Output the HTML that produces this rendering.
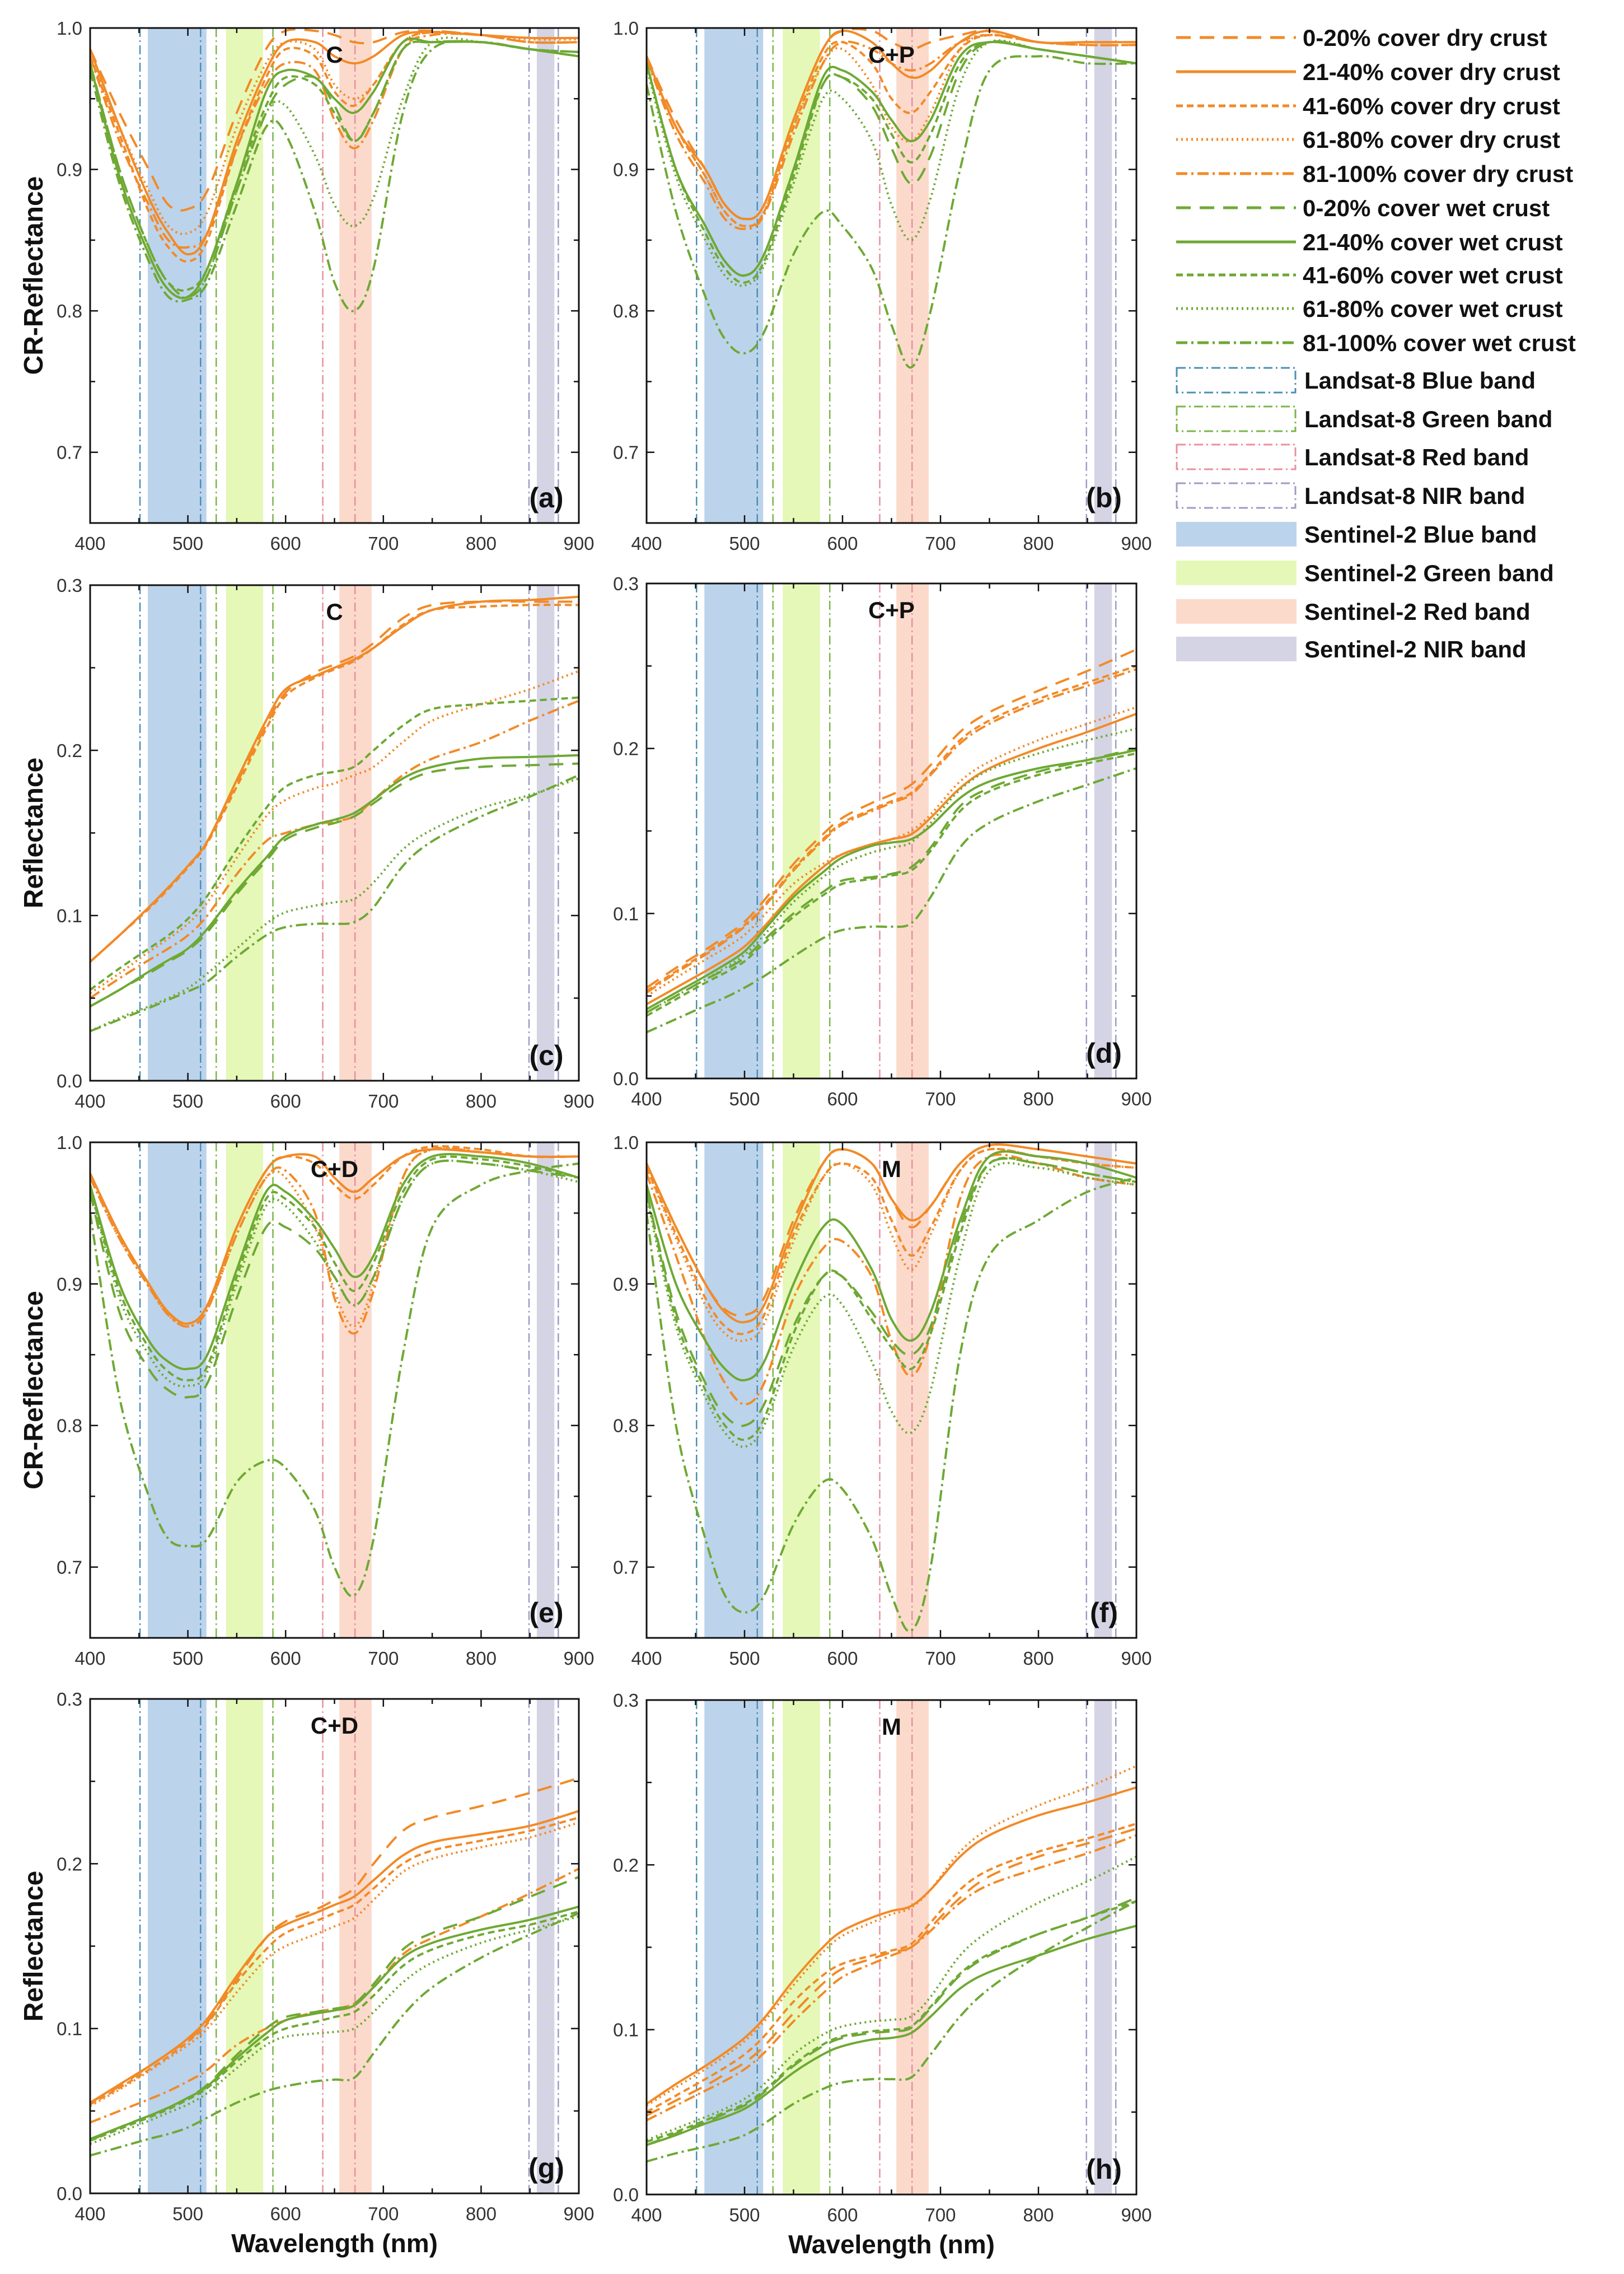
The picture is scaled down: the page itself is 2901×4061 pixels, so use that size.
<!DOCTYPE html>
<html><head><meta charset="utf-8">
<style>
html,body{margin:0;padding:0;background:#fff;}
svg{display:block;}
text{font-family:"Liberation Sans",Arial,sans-serif;}
</style></head>
<body>
<svg id="fig" xmlns="http://www.w3.org/2000/svg" width="2901" height="4061" viewBox="0 0 2901 4061"></svg>
<script>
const wavelengths = [400,430,460,480,500,520,550,580,600,630,650,670,690,720,750,800,850,900];
const seriesNames = ["0-20% cover dry crust","21-40% cover dry crust","41-60% cover dry crust","61-80% cover dry crust","81-100% cover dry crust","0-20% cover wet crust","21-40% cover wet crust","41-60% cover wet crust","61-80% cover wet crust","81-100% cover wet crust"];
const xTicks = [400,500,600,700,800,900];
const crTicks = [0.7,0.8,0.9,1.0];
const crTickLabels = ["0.7","0.8","0.9","1.0"];
const rTicks = [0.0,0.1,0.2,0.3];
const rTickLabels = ["0.0","0.1","0.2","0.3"];
const sentinelBands = [[459,519],[539,577],[655,688],[857,875]];
const landsatBands = [[451,513],[529,587],[638,671],[849,879]];

const seriesA = [
[.985,.94,.90,.875,.872,.885,.94,.985,.998,.998,.995,.99,.99,.997,.998,.995,.99,.99],
[.985,.93,.88,.855,.84,.855,.92,.97,.99,.99,.98,.975,.98,.995,.997,.995,.993,.993],
[.98,.925,.87,.845,.835,.85,.915,.965,.985,.98,.955,.945,.96,.99,.997,.995,.99,.99],
[.98,.93,.885,.86,.855,.87,.93,.975,.99,.985,.96,.95,.96,.99,.997,.995,.992,.992],
[.98,.92,.875,.85,.845,.855,.915,.96,.975,.97,.935,.915,.935,.985,.995,.995,.99,.99],
[.975,.90,.845,.82,.81,.825,.885,.94,.96,.965,.945,.92,.94,.985,.99,.99,.985,.98],
[.975,.895,.84,.815,.81,.83,.89,.955,.97,.965,.95,.94,.955,.99,.99,.99,.985,.98],
[.975,.90,.845,.82,.815,.83,.89,.945,.965,.96,.94,.92,.94,.985,.99,.99,.985,.983],
[.975,.895,.84,.815,.81,.825,.885,.94,.945,.91,.875,.86,.88,.95,.99,.99,.985,.983],
[.97,.89,.835,.81,.808,.82,.875,.93,.925,.87,.82,.80,.83,.94,.985,.99,.985,.983]];
const seriesB = [
[.98,.935,.9,.875,.865,.875,.935,.985,.998,.998,.99,.985,.99,.995,.998,.99,.99,.99],
[.98,.93,.9,.875,.865,.875,.935,.985,.998,.99,.975,.965,.97,.99,.998,.99,.99,.99],
[.978,.93,.895,.87,.86,.87,.93,.98,.99,.975,.95,.94,.955,.985,.995,.99,.988,.988],
[.978,.93,.895,.87,.86,.87,.93,.975,.985,.96,.93,.92,.94,.985,.995,.99,.988,.988],
[.978,.925,.89,.865,.858,.868,.925,.975,.99,.985,.975,.97,.975,.99,.995,.99,.988,.988],
[.975,.9,.86,.835,.825,.84,.9,.96,.965,.945,.915,.89,.91,.97,.99,.985,.98,.975],
[.975,.9,.86,.835,.825,.84,.9,.965,.97,.955,.935,.92,.935,.98,.99,.985,.98,.975],
[.975,.9,.855,.83,.82,.835,.895,.96,.965,.95,.925,.905,.925,.975,.99,.985,.98,.975],
[.972,.895,.85,.825,.818,.832,.89,.95,.95,.92,.875,.85,.88,.96,.99,.985,.98,.975],
[.96,.87,.81,.78,.77,.785,.84,.87,.86,.83,.79,.76,.8,.9,.97,.98,.975,.975]];
const seriesC = [
[.072,.088,.105,.117,.13,.145,.18,.215,.235,.247,.252,.257,.265,.28,.288,.29,.29,.29],
[.072,.088,.105,.117,.13,.145,.182,.218,.237,.245,.25,.255,.262,.275,.285,.29,.291,.293],
[.072,.088,.104,.116,.129,.144,.178,.213,.233,.244,.249,.254,.262,.276,.285,.287,.288,.288],
[.053,.065,.078,.086,.095,.108,.135,.16,.17,.177,.18,.185,.19,.205,.218,.228,.237,.248],
[.05,.062,.073,.08,.088,.1,.125,.145,.15,.155,.157,.16,.17,.185,.195,.205,.218,.23],
[.045,.055,.065,.072,.079,.09,.113,.133,.146,.153,.156,.16,.168,.18,.187,.19,.191,.192],
[.045,.055,.066,.073,.08,.092,.115,.135,.148,.155,.158,.162,.17,.183,.19,.195,.196,.197],
[.055,.068,.08,.088,.098,.112,.14,.165,.178,.185,.187,.19,.2,.215,.225,.228,.23,.232],
[.03,.038,.045,.05,.056,.065,.08,.095,.102,.106,.108,.11,.12,.14,.152,.165,.173,.183],
[.03,.037,.044,.049,.054,.06,.075,.088,.093,.095,.095,.096,.105,.13,.145,.16,.172,.185]];
const seriesD = [
[.055,.067,.078,.086,.095,.108,.13,.148,.158,.167,.172,.178,.19,.21,.222,.235,.247,.26],
[.045,.055,.065,.072,.08,.092,.112,.128,.136,.142,.145,.148,.158,.176,.188,.2,.21,.221],
[.053,.065,.076,.084,.093,.105,.127,.145,.155,.163,.168,.173,.185,.205,.217,.23,.24,.25],
[.05,.061,.072,.079,.087,.099,.118,.13,.136,.141,.145,.15,.16,.18,.192,.205,.215,.225],
[.052,.064,.075,.083,.092,.104,.126,.144,.154,.162,.167,.172,.184,.203,.215,.228,.238,.248],
[.04,.05,.06,.066,.073,.084,.1,.113,.12,.122,.124,.128,.14,.165,.176,.186,.193,.2],
[.042,.052,.062,.069,.077,.09,.11,.125,.134,.141,.143,.145,.153,.17,.18,.188,.193,.199],
[.038,.048,.058,.064,.071,.082,.098,.111,.118,.121,.123,.126,.138,.162,.174,.184,.191,.197],
[.04,.05,.06,.067,.075,.087,.107,.122,.13,.137,.14,.143,.155,.175,.187,.197,.205,.212],
[.028,.036,.044,.049,.055,.062,.074,.085,.09,.092,.092,.094,.11,.14,.155,.168,.178,.188]];
const seriesE = [
[.978,.935,.9,.88,.872,.885,.94,.98,.99,.99,.975,.965,.975,.99,.995,.993,.99,.99],
[.978,.935,.9,.88,.872,.885,.94,.98,.99,.99,.975,.965,.975,.99,.995,.993,.99,.99],
[.978,.935,.9,.88,.872,.885,.94,.98,.99,.985,.97,.96,.97,.99,.997,.995,.99,.99],
[.975,.932,.898,.878,.87,.882,.935,.975,.975,.94,.895,.87,.9,.975,.995,.993,.99,.99],
[.975,.932,.898,.878,.87,.882,.935,.975,.98,.95,.89,.865,.895,.975,.995,.993,.99,.99],
[.965,.88,.84,.825,.82,.83,.89,.94,.94,.925,.905,.885,.905,.96,.985,.985,.98,.975],
[.97,.9,.86,.845,.84,.85,.91,.965,.965,.945,.925,.905,.92,.97,.99,.99,.985,.975],
[.968,.895,.855,.838,.832,.842,.905,.96,.96,.94,.915,.895,.915,.965,.988,.988,.983,.975],
[.968,.89,.85,.832,.828,.838,.9,.955,.955,.93,.905,.885,.905,.96,.985,.985,.98,.972],
[.95,.82,.75,.72,.715,.72,.76,.775,.77,.74,.7,.68,.72,.85,.94,.97,.98,.985]];
const seriesF = [
[.985,.94,.9,.882,.878,.89,.945,.985,.995,.985,.96,.94,.955,.985,.998,.995,.99,.985],
[.985,.94,.9,.88,.873,.885,.94,.985,.995,.985,.96,.945,.955,.985,.998,.995,.99,.985],
[.982,.935,.89,.87,.865,.878,.935,.975,.985,.975,.945,.92,.94,.98,.995,.99,.985,.982],
[.982,.932,.885,.865,.86,.872,.93,.975,.985,.97,.935,.91,.935,.98,.995,.99,.985,.982],
[.978,.92,.86,.83,.815,.83,.89,.925,.93,.905,.86,.835,.865,.96,.99,.985,.975,.97],
[.965,.88,.83,.807,.8,.815,.87,.905,.905,.88,.86,.85,.87,.94,.985,.985,.978,.972],
[.97,.9,.86,.84,.832,.845,.9,.94,.942,.91,.875,.86,.88,.945,.99,.99,.985,.975],
[.965,.875,.825,.8,.79,.805,.865,.905,.905,.875,.855,.84,.865,.935,.985,.985,.978,.972],
[.962,.87,.82,.795,.785,.8,.855,.89,.885,.845,.81,.795,.825,.92,.98,.982,.975,.97],
[.95,.8,.72,.68,.668,.68,.73,.76,.755,.72,.68,.655,.7,.85,.92,.945,.965,.975]];
const seriesG = [
[.055,.065,.077,.085,.093,.104,.13,.155,.165,.172,.178,.185,.2,.22,.228,.235,.243,.252],
[.055,.066,.077,.085,.094,.106,.132,.155,.163,.17,.175,.18,.19,.205,.213,.218,.223,.232],
[.054,.064,.075,.083,.092,.103,.128,.148,.158,.165,.17,.175,.185,.2,.208,.214,.22,.228],
[.053,.063,.074,.082,.09,.1,.122,.142,.15,.157,.162,.167,.178,.195,.203,.21,.216,.225],
[.043,.05,.057,.062,.068,.075,.09,.1,.105,.11,.112,.115,.125,.145,.155,.168,.182,.197],
[.032,.04,.047,.052,.058,.066,.084,.1,.107,.11,.112,.115,.127,.148,.158,.168,.18,.192],
[.033,.04,.047,.052,.058,.065,.082,.097,.105,.109,.111,.114,.125,.143,.152,.16,.166,.174],
[.032,.039,.046,.051,.057,.064,.08,.094,.1,.104,.107,.11,.12,.138,.148,.157,.163,.171],
[.03,.037,.044,.049,.054,.061,.076,.09,.095,.097,.098,.1,.11,.128,.14,.152,.16,.168],
[.023,.028,.033,.036,.04,.046,.055,.062,.065,.068,.069,.07,.085,.108,.125,.143,.157,.17]];
const seriesH = [
[.048,.057,.066,.073,.08,.09,.11,.128,.137,.143,.147,.15,.162,.18,.193,.205,.213,.222],
[.055,.067,.078,.086,.095,.107,.13,.15,.16,.168,.172,.175,.185,.205,.218,.23,.238,.247],
[.05,.06,.07,.077,.085,.096,.117,.133,.14,.145,.148,.152,.165,.185,.197,.208,.216,.225],
[.054,.065,.076,.084,.093,.105,.127,.147,.157,.165,.17,.174,.185,.208,.222,.236,.247,.26],
[.045,.054,.063,.069,.076,.086,.105,.122,.132,.14,.145,.15,.16,.177,.188,.198,.207,.218],
[.03,.037,.044,.049,.054,.062,.078,.09,.095,.098,.099,.101,.113,.133,.145,.158,.168,.18],
[.03,.036,.043,.047,.052,.06,.074,.085,.09,.094,.095,.098,.108,.125,.135,.145,.155,.163],
[.032,.038,.045,.05,.055,.063,.079,.091,.096,.099,.1,.102,.114,.134,.146,.158,.168,.178],
[.033,.04,.047,.052,.058,.067,.085,.097,.102,.105,.106,.108,.12,.145,.16,.177,.19,.205],
[.02,.025,.029,.032,.036,.043,.055,.064,.068,.07,.07,.071,.085,.108,.125,.145,.162,.178]];

const NS = "http://www.w3.org/2000/svg";
const svg = document.getElementById('fig');
const ORANGE = "#f28a27", GREEN = "#6ea934";
const styles = [
 {c:ORANGE,d:"26 16",w:4},{c:ORANGE,d:"",w:4},{c:ORANGE,d:"12 7",w:4},{c:ORANGE,d:"3 6",w:4},{c:ORANGE,d:"20 7 4 7",w:4},
 {c:GREEN,d:"26 16",w:4},{c:GREEN,d:"",w:4},{c:GREEN,d:"12 7",w:4},{c:GREEN,d:"3 6",w:4},{c:GREEN,d:"20 7 4 7",w:4}];
const sentColors = ["#bcd3ec","#e5f8b8","#fbdacc","#d5d4e5"];
const landColors = ["#4b8fb5","#7bb54a","#e8909c","#9c9cc4"];

function el(tag, attrs, parent){
  const e = document.createElementNS(NS, tag);
  for (const k in attrs) e.setAttribute(k, attrs[k]);
  (parent||svg).appendChild(e);
  return e;
}
function txt(s, attrs, parent){ const t = el('text', attrs, parent); t.textContent = s; return t; }

const panels = [
 {id:'a', x0:161, x1:1034, y0:50, y1:934, cr:true, data:seriesA, title:'C', label:'(a)', ytitle:'CR-Reflectance'},
 {id:'b', x0:1155, x1:2030, y0:50, y1:934, cr:true, data:seriesB, title:'C+P', label:'(b)'},
 {id:'c', x0:161, x1:1034, y0:1045, y1:1930, cr:false, data:seriesC, title:'C', label:'(c)', ytitle:'Reflectance'},
 {id:'d', x0:1155, x1:2030, y0:1042, y1:1926, cr:false, data:seriesD, title:'C+P', label:'(d)'},
 {id:'e', x0:161, x1:1034, y0:2040, y1:2925, cr:true, data:seriesE, title:'C+D', label:'(e)', ytitle:'CR-Reflectance'},
 {id:'f', x0:1155, x1:2030, y0:2040, y1:2925, cr:true, data:seriesF, title:'M', label:'(f)'},
 {id:'g', x0:161, x1:1034, y0:3034, y1:3917, cr:false, data:seriesG, title:'C+D', label:'(g)', ytitle:'Reflectance', xtitle:true},
 {id:'h', x0:1155, x1:2030, y0:3036, y1:3919, cr:false, data:seriesH, title:'M', label:'(h)', xtitle:true}
];

function pathFor(xs, ys){
  let d = `M${xs[0]},${ys[0]}`;
  for (let i=0;i<xs.length-1;i++){
    const x0 = xs[Math.max(0,i-1)], y0 = ys[Math.max(0,i-1)];
    const x1 = xs[i], y1 = ys[i], x2 = xs[i+1], y2 = ys[i+1];
    const x3 = xs[Math.min(xs.length-1,i+2)], y3 = ys[Math.min(xs.length-1,i+2)];
    const c1x = x1+(x2-x0)/6, c1y = y1+(y2-y0)/6, c2x = x2-(x3-x1)/6, c2y = y2-(y3-y1)/6;
    d += ` C${c1x.toFixed(1)},${c1y.toFixed(1)} ${c2x.toFixed(1)},${c2y.toFixed(1)} ${x2.toFixed(1)},${y2.toFixed(1)}`;
  }
  return d;
}

panels.forEach(p => {
  const g = el('g', {});
  
  
  const ymin = p.cr ? 0.65 : 0.0, ymax = p.cr ? 1.0 : 0.3;
  const X = w => p.x0 + (w-400)/500*(p.x1-p.x0);
  const Y = v => p.y1 - (v-ymin)/(ymax-ymin)*(p.y1-p.y0);
  const clipId = 'clip-' + p.id;
  const cp = el('clipPath', {id:clipId}, g);
  el('rect', {x:p.x0, y:p.y0, width:p.x1-p.x0, height:p.y1-p.y0}, cp);
  sentinelBands.forEach((b,i) => {
    const r = el('rect', {x:X(b[0]), y:p.y0, width:X(b[1])-X(b[0]), height:p.y1-p.y0, fill:sentColors[i]}, g);
    
    
  });
  landsatBands.forEach((b,i) => {
    b.forEach(w => {
      const l = el('line', {x1:X(w), x2:X(w), y1:p.y0, y2:p.y1, stroke:landColors[i], 'stroke-width':2.5, 'stroke-dasharray':'16 6 3 6'}, g);
      
      
    });
  });
  const sg = el('g', {'clip-path':`url(#${clipId})`}, g);
  p.data.forEach((vals, si) => {
    const xs = wavelengths.map(X), ys = vals.map(Y);
    const s = styles[si];
    const path = el('path', {d:pathFor(xs,ys), fill:'none', stroke:s.c, 'stroke-width':s.w, 'stroke-linecap':'butt'}, sg);
    if (s.d) path.setAttribute('stroke-dasharray', s.d);
    
    
  });
  const fr = el('rect', {x:p.x0, y:p.y0, width:p.x1-p.x0, height:p.y1-p.y0, fill:'none', stroke:'#111', 'stroke-width':3}, g);
  
  
  for (let w=400; w<=900; w+=50){
    const len = (w%100===0)?14:9;
    el('line', {x1:X(w), x2:X(w), y1:p.y1, y2:p.y1-len, stroke:'#111','stroke-width':2.5}, g);
    el('line', {x1:X(w), x2:X(w), y1:p.y0, y2:p.y0+len, stroke:'#111','stroke-width':2.5}, g);
  }
  xTicks.forEach(w => {
    const t = txt(String(w), {x:X(w), y:p.y1+48, 'font-size':33, 'text-anchor':'middle', fill:'#333'}, g);
    
    
  });
  const tks = p.cr ? crTicks : rTicks, tls = p.cr ? crTickLabels : rTickLabels;
  const step = 0.05;
  for (let v=ymin; v<=ymax+1e-6; v+=step){
    const major = Math.abs(Math.round(v*10)-v*10) < 1e-6;
    const len = major?14:9;
    el('line', {x1:p.x0, x2:p.x0+len, y1:Y(v), y2:Y(v), stroke:'#111','stroke-width':2.5}, g);
    el('line', {x1:p.x1, x2:p.x1-len, y1:Y(v), y2:Y(v), stroke:'#111','stroke-width':2.5}, g);
  }
  tks.forEach((v,i) => {
    const t = txt(tls[i], {x:p.x0-14, y:Y(v)+12, 'font-size':33, 'text-anchor':'end', fill:'#333'}, g);
    
    
  });
  const tt = txt(p.title, {x:X(650), y:p.y0+62, 'font-size':42, 'font-weight':'bold', 'text-anchor':'middle', fill:'#111'}, g);
  
  
  const lb = txt(p.label, {x:p.x1-58, y:p.y1-28, 'font-size':50, 'font-weight':'bold', 'text-anchor':'middle', fill:'#111'}, g);
  
  
  if (p.ytitle){
    const cy = (p.y0+p.y1)/2;
    const yt = txt(p.ytitle, {x:0, y:0, 'font-size':48, 'font-weight':'bold', 'text-anchor':'middle', fill:'#111', transform:`translate(76,${cy}) rotate(-90)`}, g);
    
    
  }
  if (p.xtitle){
    const xt = txt('Wavelength (nm)', {x:(p.x0+p.x1)/2, y:p.y1+105, 'font-size':46, 'font-weight':'bold', 'text-anchor':'middle', fill:'#111'}, g);
    
    
  }
});

const lg = el('g', {});


const lineRowsY = [67,128,189,249,310,371,432,491,551,612];
seriesNames.forEach((n,i) => {
  const s = styles[i];
  const l = el('line', {x1:2101, x2:2315, y1:lineRowsY[i], y2:lineRowsY[i], stroke:s.c, 'stroke-width':5}, lg);
  if (s.d) l.setAttribute('stroke-dasharray', s.d);
  
  
  const t = txt(n, {x:2327, y:lineRowsY[i]+15, 'font-size':42, 'font-weight':'bold', fill:'#111'}, lg);
  
  
});
const bandNames = ["Landsat-8 Blue band","Landsat-8 Green band","Landsat-8 Red band","Landsat-8 NIR band","Sentinel-2 Blue band","Sentinel-2 Green band","Sentinel-2 Red band","Sentinel-2 NIR band"];
const boxRowsY = [679,748,816,885,954,1023,1092,1159];
bandNames.forEach((n,i) => {
  const cy = boxRowsY[i];
  let r;
  if (i<4) r = el('rect', {x:2102, y:cy-22, width:212, height:44, fill:'none', stroke:landColors[i], 'stroke-width':3, 'stroke-dasharray':'16 6 3 6'}, lg);
  else r = el('rect', {x:2101, y:cy-22, width:215, height:44, fill:sentColors[i-4]}, lg);
  
  
  const t = txt(n, {x:2330, y:cy+15, 'font-size':42, 'font-weight':'bold', fill:'#111'}, lg);
  
  
});
</script>
</body></html>
